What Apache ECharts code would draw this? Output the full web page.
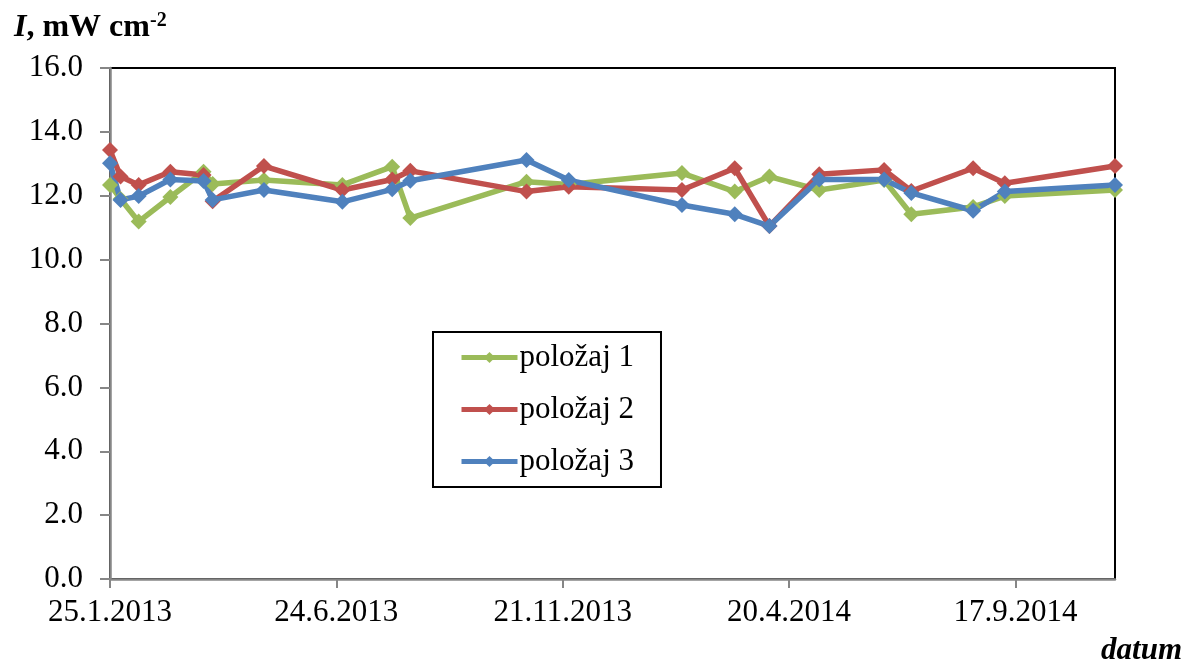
<!DOCTYPE html>
<html>
<head>
<meta charset="utf-8">
<script src="https://cdn.jsdelivr.net/npm/echarts@6/dist/echarts.min.js"></script>
<style>
  html, body { margin: 0; padding: 0; background: #fff; }
  #chart { width: 1185px; height: 668px; }
</style>
</head>
<body>
<div id="chart"></div>
<script>
// Measurement dates (d.m.yyyy on the axis)
const dates = ['2013-01-25','2013-02-01','2013-02-13','2013-03-06','2013-03-28','2013-04-03',
  '2013-05-07','2013-06-28','2013-07-31','2013-08-12','2013-10-28','2013-11-25',
  '2014-02-08','2014-03-15','2014-04-07','2014-05-10','2014-06-22','2014-07-10',
  '2014-08-20','2014-09-10','2014-11-22'];

// Irradiance I, mW cm-2, at three positions
const polozaj1 = [12.34, 11.90, 11.19, 11.96, 12.75, 12.37, 12.49, 12.34, 12.91, 11.30, 12.44, 12.35,
  12.71, 12.13, 12.60, 12.18, 12.49, 11.42, 11.65, 11.99, 12.18];
const polozaj2 = [13.43, 12.60, 12.34, 12.75, 12.65, 11.83, 12.93, 12.18, 12.51, 12.78, 12.13, 12.28,
  12.18, 12.86, 11.05, 12.67, 12.81, 12.15, 12.86, 12.39, 12.93];
const polozaj3 = [13.02, 11.87, 11.99, 12.51, 12.46, 11.87, 12.18, 11.81, 12.20, 12.47, 13.12, 12.49,
  11.71, 11.42, 11.05, 12.51, 12.51, 12.09, 11.53, 12.13, 12.34];

const seriesNames = ['položaj 1', 'položaj 2', 'položaj 3'];
const yTicks = { min: 0, max: 16, step: 2 };

// x axis runs in days counted from the first measurement
const DAY = 86400000;
const startMs = Date.parse(dates[0] + 'T00:00:00Z');
const dayOf = s => Math.round((Date.parse(s + 'T00:00:00Z') - startMs) / DAY);
const xDays = dates.map(dayOf);
const fmtDate = d => {
  const t = new Date(startMs + d * DAY);
  return t.getUTCDate() + '.' + (t.getUTCMonth() + 1) + '.' + t.getUTCFullYear();
};

const FONT = '"Liberation Serif", "Times New Roman", serif';
const colors = ['#9BBB59', '#C0504D', '#4F81BD'];
const AXIS_GRAY = '#868686';

const mk = (name, vals, color) => ({
  name,
  type: 'line',
  data: vals.map((v, i) => [xDays[i], v]),
  symbol: 'diamond',
  symbolSize: 16,
  color,
  lineStyle: { width: 5.5, color },
  itemStyle: { color },
  animation: false
});

const chart = echarts.init(document.getElementById('chart'), null, { renderer: 'canvas' });
chart.setOption({
  backgroundColor: '#fff',
  animation: false,
  color: colors,
  title: {
    left: 9,
    top: 6,
    text: '{i|I}{b|, mW cm}{s|-2}',
    textStyle: {
      rich: {
        i: { fontFamily: FONT, fontSize: 32, fontWeight: 'bold', fontStyle: 'italic', color: '#000' },
        b: { fontFamily: FONT, fontSize: 32, fontWeight: 'bold', color: '#000' },
        s: { fontFamily: FONT, fontSize: 20, fontWeight: 'bold', color: '#000', verticalAlign: 'top', padding: [0, 0, 14, 0] }
      }
    }
  },
  graphic: [{
    type: 'text',
    right: 3,
    top: 635,
    style: { text: 'datum', font: 'italic bold 31px ' + FONT, fill: '#000' }
  }],
  legend: {
    data: seriesNames,
    orient: 'vertical',
    left: 433,
    top: 332,
    itemWidth: 56,
    itemHeight: 14,
    itemGap: 21,
    padding: [10, 27, 10, 26],
    backgroundColor: '#fff',
    borderColor: '#000',
    borderWidth: 2,
    borderRadius: 0,
    lineStyle: { width: 5 },
    textStyle: { fontFamily: FONT, fontSize: 31, color: '#000', lineHeight: 30, padding: [0, 0, 0, -3] }
  },
  grid: {
    left: 110,
    right: 70,
    top: 68,
    bottom: 89,
    show: true,
    borderColor: '#000',
    borderWidth: 2,
    backgroundColor: '#fff'
  },
  xAxis: {
    type: 'value',
    min: 0,
    max: xDays[xDays.length - 1],
    interval: 150,
    axisLine: { show: true, onZero: false, lineStyle: { color: AXIS_GRAY, width: 2.5 } },
    axisTick: { show: true, length: 9, lineStyle: { color: AXIS_GRAY, width: 2 } },
    splitLine: { show: false },
    axisLabel: {
      fontFamily: FONT, fontSize: 31, color: '#000', margin: 19, lineHeight: 30,
      showMaxLabel: false,
      formatter: v => fmtDate(v)
    }
  },
  yAxis: {
    type: 'value',
    min: yTicks.min,
    max: yTicks.max,
    interval: yTicks.step,
    axisLine: { show: true, lineStyle: { color: AXIS_GRAY, width: 2.5 } },
    axisTick: { show: true, length: 10, lineStyle: { color: AXIS_GRAY, width: 2 } },
    splitLine: { show: false },
    axisLabel: {
      fontFamily: FONT, fontSize: 31, color: '#000', margin: 27,
      formatter: v => v.toFixed(1)
    }
  },
  series: [
    mk(seriesNames[0], polozaj1, colors[0]),
    mk(seriesNames[1], polozaj2, colors[1]),
    mk(seriesNames[2], polozaj3, colors[2])
  ]
});
</script>
</body>
</html>
